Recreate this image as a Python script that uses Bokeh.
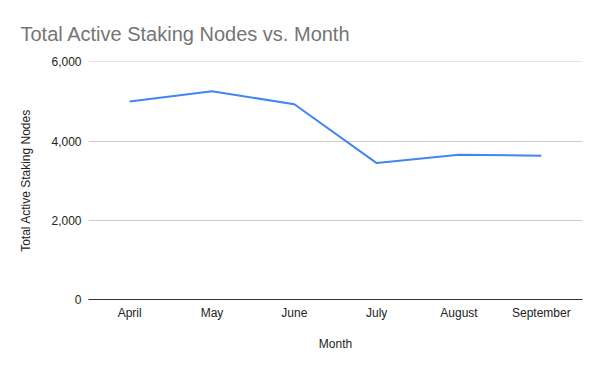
from bokeh.plotting import figure
from bokeh.models import FactorRange, Range1d, NumeralTickFormatter, FixedTicker
from bokeh.embed import file_html
from bokeh.resources import INLINE

months = ["April", "May", "June", "July", "August", "September"]
nodes = [5000, 5260, 4930, 3445, 3655, 3630]
y_ticks = [0, 2000, 4000, 6000]

FONT = "Liberation Sans"

p = figure(
    x_range=FactorRange(*months, range_padding=0),
    y_range=Range1d(0, 6010),
    width=600, height=371,
    output_backend="svg", toolbar_location=None,
    min_border_left=88, min_border_right=18, min_border_top=61, min_border_bottom=72,
    title="Total Active Staking Nodes vs. Month",
)
p.outline_line_color = None
p.background_fill_color = "white"
p.border_fill_color = "white"

p.title.text_font = FONT
p.title.text_font_size = "20px"
p.title.text_font_style = "normal"
p.title.text_color = "#757575"
p.title.offset = -68
p.title.standoff = 33

p.line(months, nodes, line_color="#4285F4", line_width=2)

p.xgrid.grid_line_color = None
p.ygrid.grid_line_color = "#cccccc"
p.ygrid.ticker = FixedTicker(ticks=y_ticks)

yax = p.yaxis[0]
yax.ticker = FixedTicker(ticks=y_ticks)
yax.formatter = NumeralTickFormatter(format="0,0")
yax.axis_line_color = None
yax.major_tick_line_color = None
yax.minor_tick_line_color = None
yax.major_tick_out = 0
yax.major_label_standoff = 7
yax.major_label_text_font = FONT
yax.major_label_text_font_size = "12px"
yax.major_label_text_color = "#222222"
yax.axis_label = "Total Active Staking Nodes"
yax.axis_label_text_font = FONT
yax.axis_label_text_font_size = "12px"
yax.axis_label_text_font_style = "normal"
yax.axis_label_text_color = "#222222"
yax.axis_label_standoff = 15

xax = p.xaxis[0]
xax.axis_line_color = "#333333"
xax.axis_line_width = 1
xax.major_tick_line_color = None
xax.minor_tick_line_color = None
xax.major_tick_out = 0
xax.major_label_standoff = 6
xax.major_label_text_font = FONT
xax.major_label_text_font_size = "12px"
xax.major_label_text_color = "#222222"
xax.axis_label = "Month"
xax.axis_label_text_font = FONT
xax.axis_label_text_font_size = "12px"
xax.axis_label_text_font_style = "normal"
xax.axis_label_text_color = "#222222"
xax.axis_label_standoff = 14

open("out.html", "w").write(file_html(p, INLINE))
